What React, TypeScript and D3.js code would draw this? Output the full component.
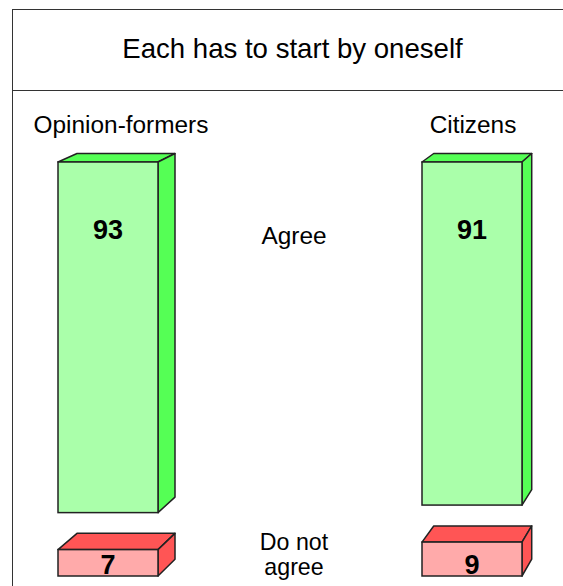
import React from "react";
import * as d3 from "d3";

const title = "Each has to start by oneself";
const groups = ["Opinion-formers", "Citizens"];
const agreeValues = [93, 91];
const disagreeValues = [7, 9];
const seriesLabels = ["Agree", "Do not\nagree"];

const W = 563;
const H = 586;
const FONT = "'Liberation Sans', Arial, Helvetica, sans-serif";

// perspective vanishing point for the 3D boxes
const VP: [number, number] = [1008, -263];
const SHRINK = 0.02;

function back(p: [number, number]): [number, number] {
  return [p[0] + SHRINK * (VP[0] - p[0]), p[1] + SHRINK * (VP[1] - p[1])];
}

function Box({ x0, x1, y0, y1, front, side, top }: { x0: number; x1: number; y0: number; y1: number; front: string; side: string; top: string }) {
  const ftl: [number, number] = [x0, y0];
  const ftr: [number, number] = [x1, y0];
  const fbr: [number, number] = [x1, y1];
  const btl = back(ftl);
  const btr = back(ftr);
  const bbr = back(fbr);
  const line = d3.line();
  const stroke = "#222";
  return (
    <g>
      <path d={line([ftl, ftr, btr, btl])! + "Z"} fill={top} stroke={stroke} strokeWidth={1.5} strokeLinejoin="round" />
      <path d={line([ftr, btr, bbr, fbr])! + "Z"} fill={side} stroke={stroke} strokeWidth={1.5} strokeLinejoin="round" />
      <rect x={x0} y={y0} width={x1 - x0} height={y1 - y0} fill={front} stroke={stroke} strokeWidth={1.5} />
    </g>
  );
}

export default function App() {
  const x = d3.scalePoint<string>().domain(groups).range([108, 472]);
  const barW = 100;
  const h = d3.scaleLinear().domain([0, 100]).range([0, 377]);
  const greenTop = 162;
  const redBottom = 576;
  const labelX = [121, 473];
  const midX = 294;

  return (
    <svg width={W} height={H} style={{ position: "absolute", left: 0, top: 0 }} fontFamily={FONT}>
      <rect x={0} y={0} width={W} height={H} fill="#fff" />
      <rect x={12.5} y={9.5} width={W + 20} height={H + 20} fill="none" stroke="#333" strokeWidth={1} />
      <line x1={12.5} x2={W + 20} y1={90.5} y2={90.5} stroke="#333" strokeWidth={1} />
      <text x={292.5} y={57.5} fontSize={27.6} textAnchor="middle" fill="#000">{title}</text>

      {groups.map((g, i) => {
        const cx = x(g)!;
        const x0 = cx - barW / 2;
        const x1 = cx + barW / 2;
        const gy1 = greenTop + h(agreeValues[i]);
        const ry0 = redBottom - h(disagreeValues[i]);
        return (
          <g key={g}>
            <text x={labelX[i]} y={133} fontSize={24.4} textAnchor="middle" fill="#000">{g}</text>
            <Box x0={x0} x1={x1} y0={greenTop} y1={gy1} front="#aaffaa" side="#55ff55" top="#55ff55" />
            <text x={cx} y={238.5} fontSize={27} fontWeight="bold" textAnchor="middle" fill="#000">{agreeValues[i]}</text>
            <Box x0={x0} x1={x1} y0={ry0} y1={redBottom} front="#ffaaaa" side="#ff5555" top="#ff5555" />
            <text x={cx} y={573.5} fontSize={27} fontWeight="bold" textAnchor="middle" fill="#000">{disagreeValues[i]}</text>
          </g>
        );
      })}

      <text x={midX} y={244} fontSize={24.4} textAnchor="middle" fill="#000">{seriesLabels[0]}</text>
      {seriesLabels[1].split("\n").map((t, k) => (
        <text key={k} x={midX} y={549.5 + k * 25.5} fontSize={23.2} textAnchor="middle" fill="#000">{t}</text>
      ))}
    </svg>
  );
}
